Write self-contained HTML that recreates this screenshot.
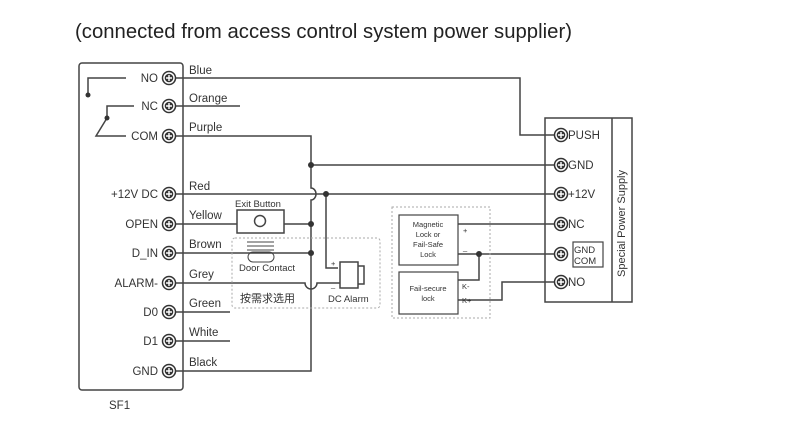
<!DOCTYPE html>
<html><head><meta charset="utf-8"><style>
body{margin:0;background:#fff;width:790px;height:429px;overflow:hidden}
svg{display:block}
text{font-family:"Liberation Sans","Noto Sans CJK SC",sans-serif;fill:#333}
</style></head><body>
<svg width="790" height="429" viewBox="0 0 790 429" xmlns="http://www.w3.org/2000/svg">
<defs>
<g id="t"><circle r="6.5" fill="#fff" stroke="#333" stroke-width="1.5"/><circle r="4.3" fill="#333"/><path d="M-3 0H3M0 -3V3" stroke="#fff" stroke-width="1.4"/></g>
</defs>
<text x="75" y="38" font-size="20.3" textLength="497" style="fill:#222">(connected from access control system power supplier)</text>
<g fill="none" stroke="#444" stroke-width="1.5">
<rect x="79" y="63" width="104" height="327" rx="3"/>
<path d="M126 78H88V94M134 106H107V118M126 136H96L107 118"/>
<path d="M175 78H520V135H555"/>
<path d="M175 106H240"/>
<path d="M175 136H311V188A5 6 0 0 1 311 200V371H175"/>
<path d="M311 165H555"/>
<path d="M175 194H555"/>
<path d="M326 194V268H338"/>
<path d="M175 224H237M284 224H311"/>
<rect x="237" y="210" width="47" height="23"/>
<circle cx="260" cy="221" r="5.5"/>
<path d="M175 253H311"/>
<path d="M175 283H305A6 6 0 0 0 317 283H340"/>
<rect x="340" y="262" width="18" height="26"/>
<path d="M358 266H364V284H358"/>
<path d="M175 312H230M175 341H230"/>
<path d="M247 242H274M247 246H274M247 250H274" stroke-width="1"/>
<rect x="248" y="252" width="26" height="10" rx="5" stroke-width="1"/>
<rect x="545" y="118" width="87" height="184"/>
<path d="M612 118V302"/>
<rect x="573" y="242" width="30" height="25" stroke-width="1.2"/>
<rect x="399" y="215" width="59" height="50" stroke-width="1.2"/>
<rect x="399" y="272" width="59" height="42" stroke-width="1.2"/>
<path d="M458 224H555M458 254H555M479 254V280H458M458 300H502V282H555"/>
</g>
<g fill="none" stroke="#aaa" stroke-width="1" stroke-dasharray="2,2">
<rect x="232" y="238" width="148" height="70" rx="3"/>
<rect x="392" y="207" width="98" height="111"/>
</g>
<g fill="#333">
<circle cx="88" cy="95" r="2.5"/><circle cx="107" cy="118" r="2.5"/>
<circle cx="311" cy="165" r="3"/><circle cx="326" cy="194" r="3"/>
<circle cx="311" cy="224" r="3"/><circle cx="311" cy="253" r="3"/>
<circle cx="479" cy="254" r="3"/>
</g>
<use href="#t" x="169" y="78"/><use href="#t" x="169" y="106"/><use href="#t" x="169" y="136"/>
<use href="#t" x="169" y="194"/><use href="#t" x="169" y="224"/><use href="#t" x="169" y="253"/>
<use href="#t" x="169" y="283"/><use href="#t" x="169" y="312"/><use href="#t" x="169" y="341"/>
<use href="#t" x="169" y="371"/>
<use href="#t" x="561" y="135"/><use href="#t" x="561" y="165"/><use href="#t" x="561" y="194"/>
<use href="#t" x="561" y="224"/><use href="#t" x="561" y="254"/><use href="#t" x="561" y="282"/>
<g font-size="11.5" text-anchor="end">
<text x="158" y="82">NO</text><text x="158" y="110">NC</text><text x="158" y="140">COM</text>
<text x="158" y="198">+12V DC</text><text x="158" y="228">OPEN</text><text x="158" y="257">D_IN</text>
<text x="158" y="287">ALARM-</text><text x="158" y="316">D0</text><text x="158" y="345">D1</text>
<text x="158" y="375">GND</text>
</g>
<g font-size="11.5">
<text x="189" y="74">Blue</text><text x="189" y="102">Orange</text><text x="189" y="131">Purple</text>
<text x="189" y="190">Red</text><text x="189" y="219">Yellow</text><text x="189" y="248">Brown</text>
<text x="189" y="278">Grey</text><text x="189" y="307">Green</text><text x="189" y="336">White</text>
<text x="189" y="366">Black</text>
<text x="109" y="409">SF1</text>
<text x="568" y="139">PUSH</text><text x="568" y="169">GND</text><text x="568" y="198">+12V</text>
<text x="568" y="228">NC</text><text x="568" y="286">NO</text>
</g>
<g font-size="9.5">
<text x="235" y="207">Exit Button</text>
<text x="239" y="271">Door Contact</text>
<text x="328" y="302">DC Alarm</text>
<text x="574" y="253">GND</text><text x="574" y="264">COM</text>
</g>
<text x="240" y="302" font-size="11">按需求选用</text>
<text x="625" y="277" font-size="11" transform="rotate(-90 625 277)">Special Power Supply</text>
<g font-size="7.5" text-anchor="middle">
<text x="428" y="227">Magnetic</text><text x="428" y="237">Lock or</text><text x="428" y="247">Fail-Safe</text><text x="428" y="257">Lock</text>
<text x="428" y="291">Fail-secure</text><text x="428" y="301">lock</text>
</g>
<g font-size="7.5">
<text x="463" y="233">+</text><text x="463" y="250">_</text>
<text x="462" y="289">K-</text><text x="462" y="303">K+</text>
<text x="331" y="266">+</text><text x="331" y="287">_</text>
</g>
</svg>
</body></html>
